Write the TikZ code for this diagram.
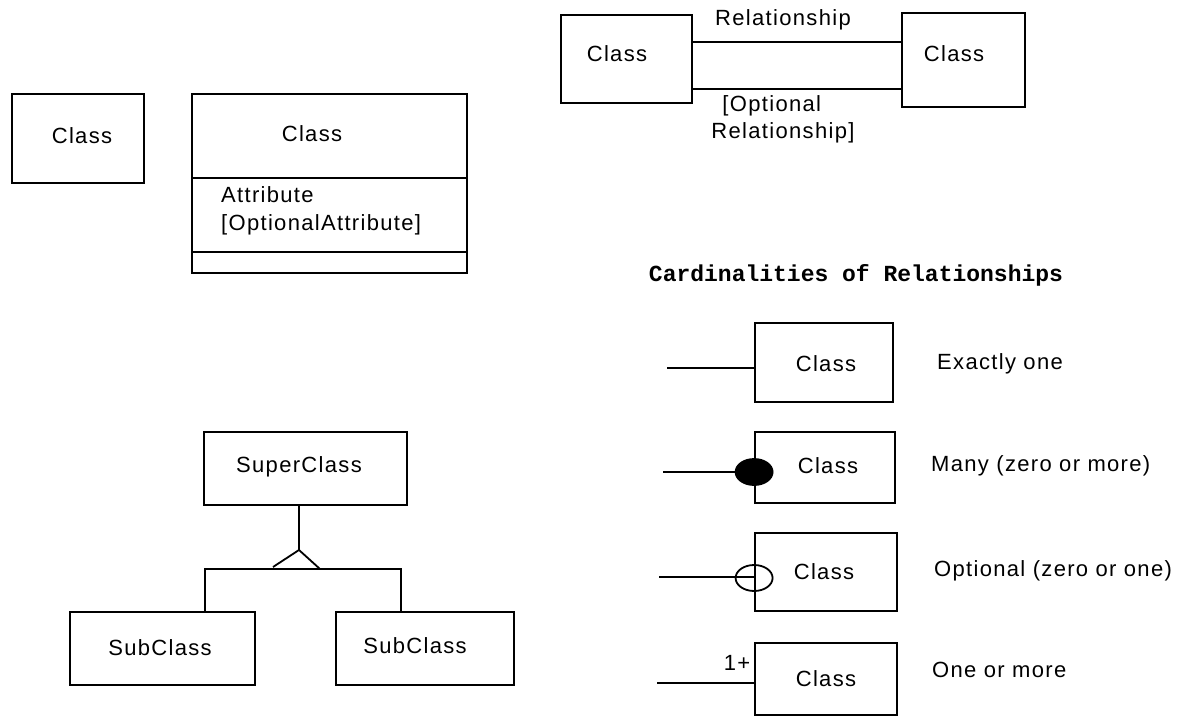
\documentclass[tikz,border=0pt]{standalone}
\usepackage{fontspec}
\setmainfont{Liberation Sans}[LetterSpace=6]
\newfontfamily\titlefont{Liberation Mono}
\usetikzlibrary{shapes.geometric}
\begin{document}
\begin{tikzpicture}[x=1pt,y=-1pt,
  every node/.style={font=\fontsize{22}{27}\selectfont, inner sep=0pt},
  box/.style={draw, line width=1.8pt, rectangle},
  conn/.style={line width=1.8pt},
  lbl/.style={anchor=west},
  many/.style={ellipse, fill=black, draw, line width=1.8pt, minimum width=37pt, minimum height=26pt},
  opt/.style={ellipse, draw, line width=1.8pt, minimum width=37pt, minimum height=26pt}]
\useasboundingbox (0,0) rectangle (1197,717);
\fill[white] (0,0) rectangle (1197,717);

% simple class
\node[box, minimum width=132pt, minimum height=89pt] (c1) at (78,138.5) {};
\node (c1t) at (82,136) {Class};

% class with attributes
\node[box, minimum width=275pt, minimum height=179pt] (c2) at (329.5,183.5) {};
\coordinate (s1) at (192,178);
\coordinate (s2) at (192,252);
\draw[conn] (s1) -- (s1 -| c2.east);
\draw[conn] (s2) -- (s2 -| c2.east);
\node (c2t) at (312,134) {Class};
\node[lbl] (att) at (221,195) {Attribute};
\node[lbl] (oatt) at (221,225) {[OptionalAttribute]};

% relationship
\node[box, minimum width=131pt, minimum height=88pt] (r1) at (626.5,59) {};
\node (r1t) at (617,54) {Class};
\node[box, minimum width=123pt, minimum height=94pt] (r2) at (963.5,60) {};
\node (r2t) at (954,54) {Class};
\draw[conn] ([yshift=17pt]r1.east) coordinate (ra) -- (ra -| r2.west);
\draw[conn] ([yshift=-30pt]r1.east) coordinate (rb) -- (rb -| r2.west);
\node (rel) at (783,20) {Relationship};
\node[align=left] (orel) at (783,119) {\hspace*{11pt}[Optional\\Relationship]};

% title
\node (title) at (856,275) {\titlefont\bfseries\fontsize{23}{26}\selectfont Cardinalities of Relationships};

% cardinalities
\node[box, minimum width=138pt, minimum height=79pt] (k1) at (824,362.5) {};
\node (k1t) at (826,364) {Class};
\coordinate (e1) at (667,368);
\draw[conn] (e1) -- (e1 -| k1.west);
\node[lbl] (l1) at (937,364) {Exactly one};

\node[box, minimum width=140pt, minimum height=71pt] (k2) at (825,467.5) {};
\node (k2t) at (828,466) {Class};
\coordinate (e2) at (663,472);
\draw[conn] (e2) -- (e2 -| k2.west);
\node[many] (m2) at (e2 -| k2.west) {};
\node[lbl] (l2) at (931,466) {Many (zero or more)};

\node[box, minimum width=142pt, minimum height=78pt] (k3) at (826,572) {};
\node (k3t) at (824,572) {Class};
\coordinate (e3) at (659,577);
\draw[conn] (e3) -- (e3 -| k3.west);
\node[opt] (o3) at ([yshift=-1pt]e3 -| k3.west) {};
\node[lbl] (l3) at (934,571) {Optional (zero or one)};

\node[box, minimum width=142pt, minimum height=72pt] (k4) at (826,679) {};
\node (k4t) at (826,679) {Class};
\coordinate (e4) at (657,683);
\draw[conn] (e4) -- ([xshift=2pt]e4 -| k4.west);
\node (one) at (737,663) {1+};
\node[lbl] (l4) at (932,670) {One or more};

% inheritance
\node[box, minimum width=203pt, minimum height=73pt] (sup) at (305.5,468.5) {};
\node (supt) at (299,467) {SuperClass};
\node[box, minimum width=185pt, minimum height=73pt] (sub1) at (162.5,648.5) {};
\node (sub1t) at (160,648) {SubClass};
\node[box, minimum width=178pt, minimum height=73pt] (sub2) at (425,648.5) {};
\node (sub2t) at (415,646) {SubClass};
\coordinate (apex) at (299,550);
\coordinate (tl) at (273,567);
\coordinate (tr) at (320,569);
\coordinate (bl) at (205,569);
\coordinate (br) at (401,569);
\draw[conn] (apex |- sup.south) -- (apex);
\draw[conn] (tl) -- (apex) -- (tr);
\draw[conn] (bl |- sub1.north) -- (bl) -- (br) -- (br |- sub2.north);
\end{tikzpicture}
\end{document}
